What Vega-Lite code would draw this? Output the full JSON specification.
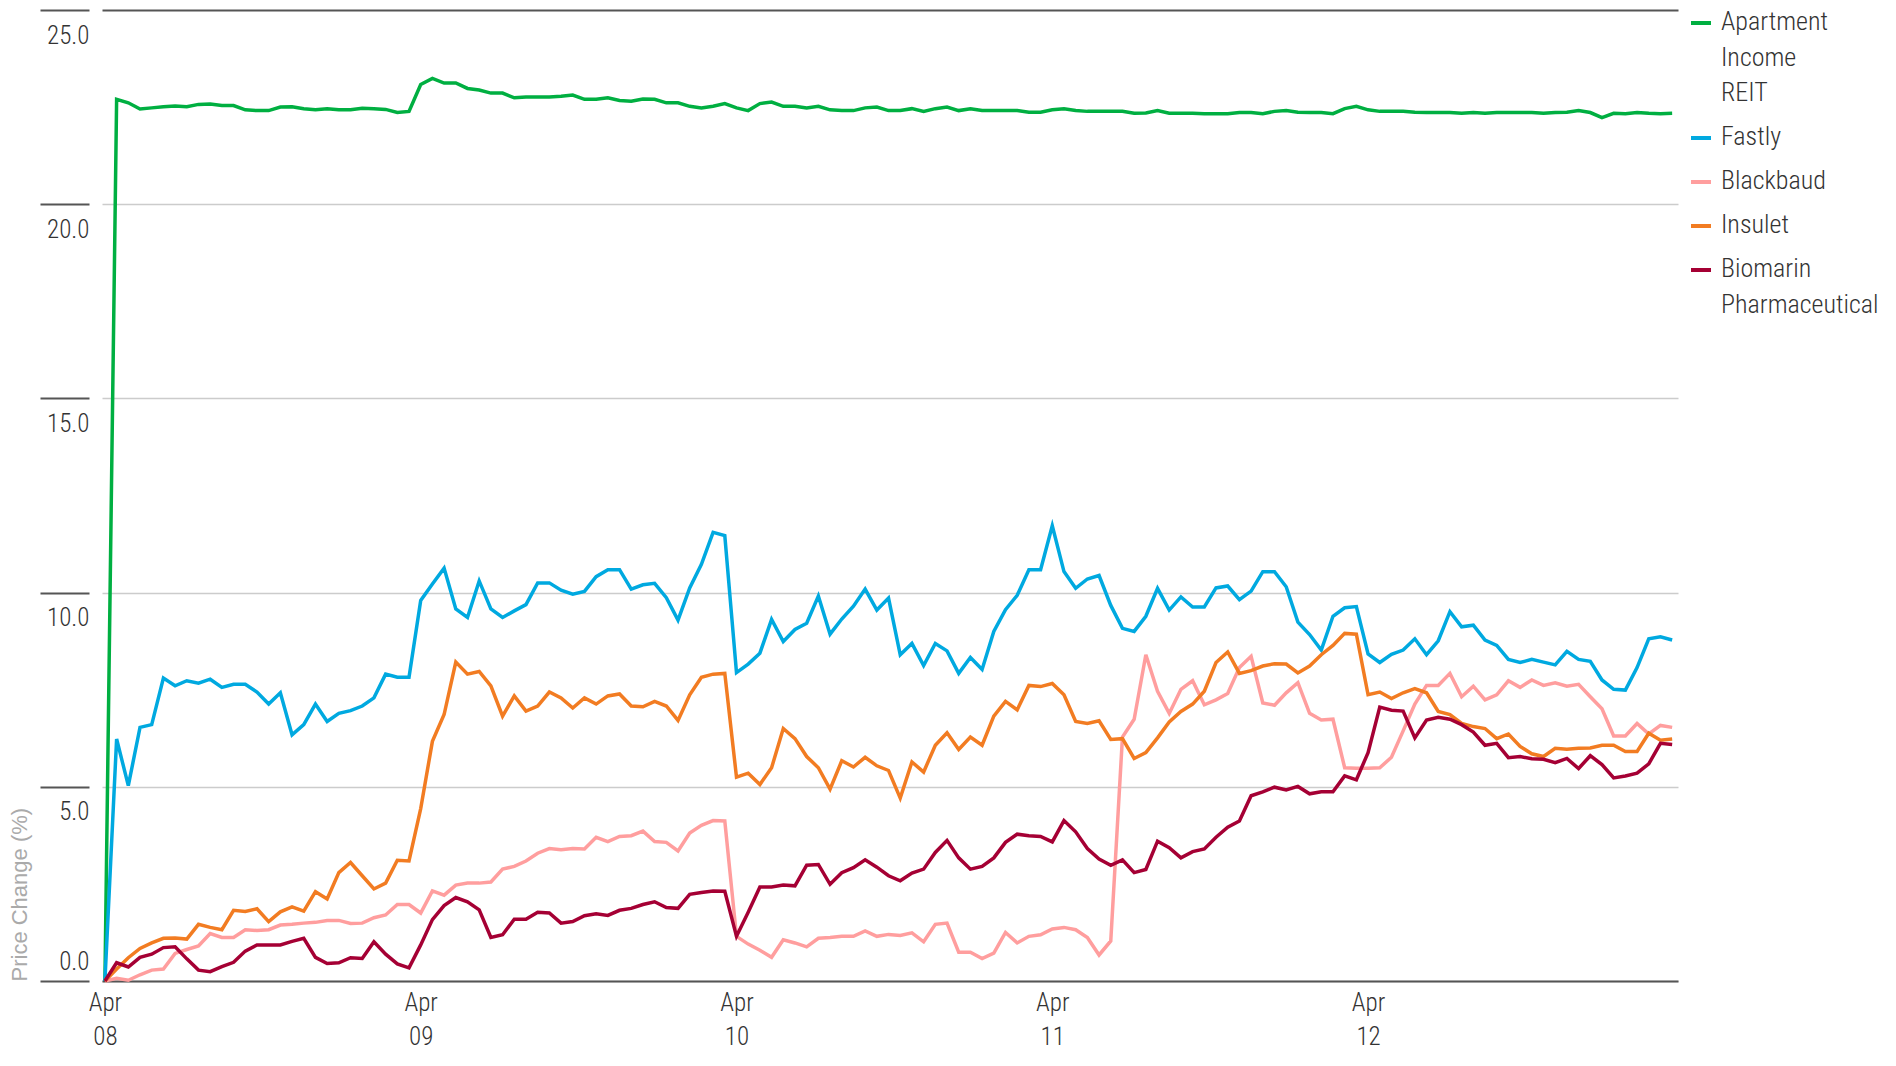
{
  "$schema": "https://vega.github.io/schema/vega-lite/v6.json",
  "autosize": "none",
  "padding": {"left": 102, "top": 10, "right": 218, "bottom": 85},
  "width": 1576,
  "height": 971,
  "background": "white",
  "config": {
    "view": {"stroke": null},
    "font": "Roboto Condensed, DejaVu Sans Condensed, Liberation Sans Narrow, Roboto"
  },
  "data": {
    "values": [
      {"i":0,"Apartment Income REIT":0,"Fastly":0,"Blackbaud":0,"Insulet":0,"Biomarin Pharmaceutical":0},
      {"i":1,"Apartment Income REIT":22.70,"Fastly":6.23,"Blackbaud":0.07,"Insulet":0.31,"Biomarin Pharmaceutical":0.47},
      {"i":2,"Apartment Income REIT":22.61,"Fastly":5.03,"Blackbaud":0.02,"Insulet":0.60,"Biomarin Pharmaceutical":0.36},
      {"i":3,"Apartment Income REIT":22.45,"Fastly":6.53,"Blackbaud":0.16,"Insulet":0.84,"Biomarin Pharmaceutical":0.61},
      {"i":4,"Apartment Income REIT":22.48,"Fastly":6.60,"Blackbaud":0.28,"Insulet":0.98,"Biomarin Pharmaceutical":0.69},
      {"i":5,"Apartment Income REIT":22.51,"Fastly":7.80,"Blackbaud":0.31,"Insulet":1.10,"Biomarin Pharmaceutical":0.86},
      {"i":6,"Apartment Income REIT":22.53,"Fastly":7.60,"Blackbaud":0.71,"Insulet":1.11,"Biomarin Pharmaceutical":0.88},
      {"i":7,"Apartment Income REIT":22.51,"Fastly":7.73,"Blackbaud":0.81,"Insulet":1.08,"Biomarin Pharmaceutical":0.57},
      {"i":8,"Apartment Income REIT":22.57,"Fastly":7.67,"Blackbaud":0.90,"Insulet":1.46,"Biomarin Pharmaceutical":0.28},
      {"i":9,"Apartment Income REIT":22.58,"Fastly":7.77,"Blackbaud":1.22,"Insulet":1.38,"Biomarin Pharmaceutical":0.24},
      {"i":10,"Apartment Income REIT":22.54,"Fastly":7.56,"Blackbaud":1.12,"Insulet":1.32,"Biomarin Pharmaceutical":0.37},
      {"i":11,"Apartment Income REIT":22.54,"Fastly":7.64,"Blackbaud":1.12,"Insulet":1.82,"Biomarin Pharmaceutical":0.48},
      {"i":12,"Apartment Income REIT":22.43,"Fastly":7.64,"Blackbaud":1.32,"Insulet":1.79,"Biomarin Pharmaceutical":0.77},
      {"i":13,"Apartment Income REIT":22.41,"Fastly":7.44,"Blackbaud":1.30,"Insulet":1.86,"Biomarin Pharmaceutical":0.93},
      {"i":14,"Apartment Income REIT":22.41,"Fastly":7.13,"Blackbaud":1.32,"Insulet":1.53,"Biomarin Pharmaceutical":0.93},
      {"i":15,"Apartment Income REIT":22.50,"Fastly":7.42,"Blackbaud":1.44,"Insulet":1.78,"Biomarin Pharmaceutical":0.93},
      {"i":16,"Apartment Income REIT":22.51,"Fastly":6.34,"Blackbaud":1.46,"Insulet":1.91,"Biomarin Pharmaceutical":1.02},
      {"i":17,"Apartment Income REIT":22.46,"Fastly":6.60,"Blackbaud":1.49,"Insulet":1.80,"Biomarin Pharmaceutical":1.10},
      {"i":18,"Apartment Income REIT":22.43,"Fastly":7.13,"Blackbaud":1.51,"Insulet":2.30,"Biomarin Pharmaceutical":0.61},
      {"i":19,"Apartment Income REIT":22.46,"Fastly":6.68,"Blackbaud":1.56,"Insulet":2.11,"Biomarin Pharmaceutical":0.45},
      {"i":20,"Apartment Income REIT":22.43,"Fastly":6.89,"Blackbaud":1.56,"Insulet":2.79,"Biomarin Pharmaceutical":0.47},
      {"i":21,"Apartment Income REIT":22.43,"Fastly":6.96,"Blackbaud":1.48,"Insulet":3.05,"Biomarin Pharmaceutical":0.60},
      {"i":22,"Apartment Income REIT":22.47,"Fastly":7.08,"Blackbaud":1.49,"Insulet":2.71,"Biomarin Pharmaceutical":0.58},
      {"i":23,"Apartment Income REIT":22.46,"Fastly":7.29,"Blackbaud":1.63,"Insulet":2.37,"Biomarin Pharmaceutical":1.01},
      {"i":24,"Apartment Income REIT":22.44,"Fastly":7.90,"Blackbaud":1.70,"Insulet":2.52,"Biomarin Pharmaceutical":0.69},
      {"i":25,"Apartment Income REIT":22.36,"Fastly":7.82,"Blackbaud":1.97,"Insulet":3.11,"Biomarin Pharmaceutical":0.44},
      {"i":26,"Apartment Income REIT":22.39,"Fastly":7.82,"Blackbaud":1.97,"Insulet":3.09,"Biomarin Pharmaceutical":0.34},
      {"i":27,"Apartment Income REIT":23.08,"Fastly":9.80,"Blackbaud":1.75,"Insulet":4.44,"Biomarin Pharmaceutical":0.93},
      {"i":28,"Apartment Income REIT":23.24,"Fastly":10.22,"Blackbaud":2.32,"Insulet":6.17,"Biomarin Pharmaceutical":1.58},
      {"i":29,"Apartment Income REIT":23.12,"Fastly":10.63,"Blackbaud":2.21,"Insulet":6.86,"Biomarin Pharmaceutical":1.94},
      {"i":30,"Apartment Income REIT":23.12,"Fastly":9.58,"Blackbaud":2.47,"Insulet":8.21,"Biomarin Pharmaceutical":2.15},
      {"i":31,"Apartment Income REIT":22.98,"Fastly":9.36,"Blackbaud":2.52,"Insulet":7.90,"Biomarin Pharmaceutical":2.04},
      {"i":32,"Apartment Income REIT":22.94,"Fastly":10.30,"Blackbaud":2.52,"Insulet":7.97,"Biomarin Pharmaceutical":1.83},
      {"i":33,"Apartment Income REIT":22.86,"Fastly":9.58,"Blackbaud":2.55,"Insulet":7.60,"Biomarin Pharmaceutical":1.12},
      {"i":34,"Apartment Income REIT":22.86,"Fastly":9.36,"Blackbaud":2.88,"Insulet":6.82,"Biomarin Pharmaceutical":1.19},
      {"i":35,"Apartment Income REIT":22.74,"Fastly":9.53,"Blackbaud":2.95,"Insulet":7.34,"Biomarin Pharmaceutical":1.59},
      {"i":36,"Apartment Income REIT":22.76,"Fastly":9.69,"Blackbaud":3.09,"Insulet":6.95,"Biomarin Pharmaceutical":1.59},
      {"i":37,"Apartment Income REIT":22.76,"Fastly":10.25,"Blackbaud":3.29,"Insulet":7.08,"Biomarin Pharmaceutical":1.77},
      {"i":38,"Apartment Income REIT":22.76,"Fastly":10.25,"Blackbaud":3.41,"Insulet":7.44,"Biomarin Pharmaceutical":1.75},
      {"i":39,"Apartment Income REIT":22.78,"Fastly":10.06,"Blackbaud":3.38,"Insulet":7.29,"Biomarin Pharmaceutical":1.49},
      {"i":40,"Apartment Income REIT":22.81,"Fastly":9.96,"Blackbaud":3.41,"Insulet":7.03,"Biomarin Pharmaceutical":1.53},
      {"i":41,"Apartment Income REIT":22.70,"Fastly":10.03,"Blackbaud":3.40,"Insulet":7.29,"Biomarin Pharmaceutical":1.68},
      {"i":42,"Apartment Income REIT":22.70,"Fastly":10.41,"Blackbaud":3.70,"Insulet":7.13,"Biomarin Pharmaceutical":1.73},
      {"i":43,"Apartment Income REIT":22.74,"Fastly":10.59,"Blackbaud":3.59,"Insulet":7.34,"Biomarin Pharmaceutical":1.69},
      {"i":44,"Apartment Income REIT":22.67,"Fastly":10.59,"Blackbaud":3.72,"Insulet":7.39,"Biomarin Pharmaceutical":1.82},
      {"i":45,"Apartment Income REIT":22.65,"Fastly":10.09,"Blackbaud":3.74,"Insulet":7.08,"Biomarin Pharmaceutical":1.87},
      {"i":46,"Apartment Income REIT":22.71,"Fastly":10.20,"Blackbaud":3.86,"Insulet":7.06,"Biomarin Pharmaceutical":1.97},
      {"i":47,"Apartment Income REIT":22.70,"Fastly":10.24,"Blackbaud":3.59,"Insulet":7.20,"Biomarin Pharmaceutical":2.04},
      {"i":48,"Apartment Income REIT":22.61,"Fastly":9.87,"Blackbaud":3.57,"Insulet":7.08,"Biomarin Pharmaceutical":1.89},
      {"i":49,"Apartment Income REIT":22.61,"Fastly":9.29,"Blackbaud":3.35,"Insulet":6.71,"Biomarin Pharmaceutical":1.87},
      {"i":50,"Apartment Income REIT":22.52,"Fastly":10.12,"Blackbaud":3.81,"Insulet":7.37,"Biomarin Pharmaceutical":2.23},
      {"i":51,"Apartment Income REIT":22.48,"Fastly":10.73,"Blackbaud":4.01,"Insulet":7.82,"Biomarin Pharmaceutical":2.28},
      {"i":52,"Apartment Income REIT":22.52,"Fastly":11.55,"Blackbaud":4.13,"Insulet":7.90,"Biomarin Pharmaceutical":2.32},
      {"i":53,"Apartment Income REIT":22.59,"Fastly":11.47,"Blackbaud":4.12,"Insulet":7.92,"Biomarin Pharmaceutical":2.31},
      {"i":54,"Apartment Income REIT":22.48,"Fastly":7.94,"Blackbaud":1.15,"Insulet":5.25,"Biomarin Pharmaceutical":1.15},
      {"i":55,"Apartment Income REIT":22.41,"Fastly":8.16,"Blackbaud":0.95,"Insulet":5.35,"Biomarin Pharmaceutical":1.77},
      {"i":56,"Apartment Income REIT":22.59,"Fastly":8.44,"Blackbaud":0.79,"Insulet":5.06,"Biomarin Pharmaceutical":2.42},
      {"i":57,"Apartment Income REIT":22.63,"Fastly":9.31,"Blackbaud":0.61,"Insulet":5.49,"Biomarin Pharmaceutical":2.42},
      {"i":58,"Apartment Income REIT":22.52,"Fastly":8.74,"Blackbaud":1.06,"Insulet":6.50,"Biomarin Pharmaceutical":2.47},
      {"i":59,"Apartment Income REIT":22.52,"Fastly":9.05,"Blackbaud":0.98,"Insulet":6.24,"Biomarin Pharmaceutical":2.45},
      {"i":60,"Apartment Income REIT":22.48,"Fastly":9.21,"Blackbaud":0.88,"Insulet":5.78,"Biomarin Pharmaceutical":2.98},
      {"i":61,"Apartment Income REIT":22.52,"Fastly":9.91,"Blackbaud":1.10,"Insulet":5.49,"Biomarin Pharmaceutical":3.00},
      {"i":62,"Apartment Income REIT":22.43,"Fastly":8.93,"Blackbaud":1.12,"Insulet":4.94,"Biomarin Pharmaceutical":2.49},
      {"i":63,"Apartment Income REIT":22.41,"Fastly":9.32,"Blackbaud":1.15,"Insulet":5.67,"Biomarin Pharmaceutical":2.79},
      {"i":64,"Apartment Income REIT":22.41,"Fastly":9.65,"Blackbaud":1.15,"Insulet":5.51,"Biomarin Pharmaceutical":2.92},
      {"i":65,"Apartment Income REIT":22.48,"Fastly":10.09,"Blackbaud":1.29,"Insulet":5.76,"Biomarin Pharmaceutical":3.12},
      {"i":66,"Apartment Income REIT":22.50,"Fastly":9.55,"Blackbaud":1.15,"Insulet":5.54,"Biomarin Pharmaceutical":2.93},
      {"i":67,"Apartment Income REIT":22.41,"Fastly":9.86,"Blackbaud":1.20,"Insulet":5.42,"Biomarin Pharmaceutical":2.71},
      {"i":68,"Apartment Income REIT":22.41,"Fastly":8.40,"Blackbaud":1.17,"Insulet":4.71,"Biomarin Pharmaceutical":2.58},
      {"i":69,"Apartment Income REIT":22.46,"Fastly":8.69,"Blackbaud":1.24,"Insulet":5.64,"Biomarin Pharmaceutical":2.78},
      {"i":70,"Apartment Income REIT":22.39,"Fastly":8.12,"Blackbaud":1.01,"Insulet":5.38,"Biomarin Pharmaceutical":2.88},
      {"i":71,"Apartment Income REIT":22.46,"Fastly":8.69,"Blackbaud":1.46,"Insulet":6.07,"Biomarin Pharmaceutical":3.31},
      {"i":72,"Apartment Income REIT":22.50,"Fastly":8.50,"Blackbaud":1.49,"Insulet":6.39,"Biomarin Pharmaceutical":3.62},
      {"i":73,"Apartment Income REIT":22.41,"Fastly":7.92,"Blackbaud":0.74,"Insulet":5.96,"Biomarin Pharmaceutical":3.17},
      {"i":74,"Apartment Income REIT":22.46,"Fastly":8.33,"Blackbaud":0.74,"Insulet":6.28,"Biomarin Pharmaceutical":2.88},
      {"i":75,"Apartment Income REIT":22.41,"Fastly":8.02,"Blackbaud":0.58,"Insulet":6.07,"Biomarin Pharmaceutical":2.95},
      {"i":76,"Apartment Income REIT":22.41,"Fastly":9.00,"Blackbaud":0.72,"Insulet":6.82,"Biomarin Pharmaceutical":3.17},
      {"i":77,"Apartment Income REIT":22.41,"Fastly":9.56,"Blackbaud":1.25,"Insulet":7.20,"Biomarin Pharmaceutical":3.57},
      {"i":78,"Apartment Income REIT":22.41,"Fastly":9.93,"Blackbaud":0.98,"Insulet":6.98,"Biomarin Pharmaceutical":3.78},
      {"i":79,"Apartment Income REIT":22.37,"Fastly":10.59,"Blackbaud":1.15,"Insulet":7.61,"Biomarin Pharmaceutical":3.74},
      {"i":80,"Apartment Income REIT":22.37,"Fastly":10.59,"Blackbaud":1.19,"Insulet":7.58,"Biomarin Pharmaceutical":3.72},
      {"i":81,"Apartment Income REIT":22.43,"Fastly":11.72,"Blackbaud":1.34,"Insulet":7.66,"Biomarin Pharmaceutical":3.58},
      {"i":82,"Apartment Income REIT":22.46,"Fastly":10.54,"Blackbaud":1.38,"Insulet":7.37,"Biomarin Pharmaceutical":4.13},
      {"i":83,"Apartment Income REIT":22.41,"Fastly":10.11,"Blackbaud":1.32,"Insulet":6.68,"Biomarin Pharmaceutical":3.84},
      {"i":84,"Apartment Income REIT":22.39,"Fastly":10.35,"Blackbaud":1.12,"Insulet":6.63,"Biomarin Pharmaceutical":3.41},
      {"i":85,"Apartment Income REIT":22.39,"Fastly":10.44,"Blackbaud":0.67,"Insulet":6.70,"Biomarin Pharmaceutical":3.14},
      {"i":86,"Apartment Income REIT":22.39,"Fastly":9.67,"Blackbaud":1.03,"Insulet":6.22,"Biomarin Pharmaceutical":2.98},
      {"i":87,"Apartment Income REIT":22.39,"Fastly":9.08,"Blackbaud":6.28,"Insulet":6.24,"Biomarin Pharmaceutical":3.12},
      {"i":88,"Apartment Income REIT":22.34,"Fastly":9.00,"Blackbaud":6.74,"Insulet":5.73,"Biomarin Pharmaceutical":2.79},
      {"i":89,"Apartment Income REIT":22.35,"Fastly":9.39,"Blackbaud":8.40,"Insulet":5.88,"Biomarin Pharmaceutical":2.87},
      {"i":90,"Apartment Income REIT":22.41,"Fastly":10.11,"Blackbaud":7.46,"Insulet":6.26,"Biomarin Pharmaceutical":3.60},
      {"i":91,"Apartment Income REIT":22.34,"Fastly":9.55,"Blackbaud":6.89,"Insulet":6.67,"Biomarin Pharmaceutical":3.43},
      {"i":92,"Apartment Income REIT":22.34,"Fastly":9.89,"Blackbaud":7.51,"Insulet":6.94,"Biomarin Pharmaceutical":3.17},
      {"i":93,"Apartment Income REIT":22.34,"Fastly":9.63,"Blackbaud":7.73,"Insulet":7.13,"Biomarin Pharmaceutical":3.33},
      {"i":94,"Apartment Income REIT":22.33,"Fastly":9.63,"Blackbaud":7.11,"Insulet":7.46,"Biomarin Pharmaceutical":3.40},
      {"i":95,"Apartment Income REIT":22.33,"Fastly":10.12,"Blackbaud":7.24,"Insulet":8.20,"Biomarin Pharmaceutical":3.70},
      {"i":96,"Apartment Income REIT":22.33,"Fastly":10.17,"Blackbaud":7.40,"Insulet":8.47,"Biomarin Pharmaceutical":3.96},
      {"i":97,"Apartment Income REIT":22.36,"Fastly":9.82,"Blackbaud":8.07,"Insulet":7.92,"Biomarin Pharmaceutical":4.12},
      {"i":98,"Apartment Income REIT":22.36,"Fastly":10.04,"Blackbaud":8.36,"Insulet":7.99,"Biomarin Pharmaceutical":4.77},
      {"i":99,"Apartment Income REIT":22.33,"Fastly":10.54,"Blackbaud":7.16,"Insulet":8.11,"Biomarin Pharmaceutical":4.87},
      {"i":100,"Apartment Income REIT":22.39,"Fastly":10.54,"Blackbaud":7.10,"Insulet":8.17,"Biomarin Pharmaceutical":4.99},
      {"i":101,"Apartment Income REIT":22.41,"Fastly":10.15,"Blackbaud":7.42,"Insulet":8.16,"Biomarin Pharmaceutical":4.92},
      {"i":102,"Apartment Income REIT":22.37,"Fastly":9.24,"Blackbaud":7.68,"Insulet":7.93,"Biomarin Pharmaceutical":5.01},
      {"i":103,"Apartment Income REIT":22.36,"Fastly":8.92,"Blackbaud":6.89,"Insulet":8.11,"Biomarin Pharmaceutical":4.82},
      {"i":104,"Apartment Income REIT":22.36,"Fastly":8.52,"Blackbaud":6.72,"Insulet":8.40,"Biomarin Pharmaceutical":4.87},
      {"i":105,"Apartment Income REIT":22.33,"Fastly":9.39,"Blackbaud":6.74,"Insulet":8.64,"Biomarin Pharmaceutical":4.87},
      {"i":106,"Apartment Income REIT":22.46,"Fastly":9.61,"Blackbaud":5.49,"Insulet":8.95,"Biomarin Pharmaceutical":5.28},
      {"i":107,"Apartment Income REIT":22.52,"Fastly":9.64,"Blackbaud":5.48,"Insulet":8.93,"Biomarin Pharmaceutical":5.18},
      {"i":108,"Apartment Income REIT":22.43,"Fastly":8.42,"Blackbaud":5.48,"Insulet":7.37,"Biomarin Pharmaceutical":5.88},
      {"i":109,"Apartment Income REIT":22.39,"Fastly":8.20,"Blackbaud":5.49,"Insulet":7.44,"Biomarin Pharmaceutical":7.05},
      {"i":110,"Apartment Income REIT":22.39,"Fastly":8.41,"Blackbaud":5.76,"Insulet":7.27,"Biomarin Pharmaceutical":6.97},
      {"i":111,"Apartment Income REIT":22.39,"Fastly":8.52,"Blackbaud":6.44,"Insulet":7.42,"Biomarin Pharmaceutical":6.95},
      {"i":112,"Apartment Income REIT":22.37,"Fastly":8.81,"Blackbaud":7.13,"Insulet":7.53,"Biomarin Pharmaceutical":6.26},
      {"i":113,"Apartment Income REIT":22.36,"Fastly":8.40,"Blackbaud":7.61,"Insulet":7.42,"Biomarin Pharmaceutical":6.72},
      {"i":114,"Apartment Income REIT":22.36,"Fastly":8.76,"Blackbaud":7.61,"Insulet":6.94,"Biomarin Pharmaceutical":6.79},
      {"i":115,"Apartment Income REIT":22.36,"Fastly":9.51,"Blackbaud":7.92,"Insulet":6.86,"Biomarin Pharmaceutical":6.74},
      {"i":116,"Apartment Income REIT":22.34,"Fastly":9.12,"Blackbaud":7.32,"Insulet":6.63,"Biomarin Pharmaceutical":6.60},
      {"i":117,"Apartment Income REIT":22.36,"Fastly":9.16,"Blackbaud":7.59,"Insulet":6.55,"Biomarin Pharmaceutical":6.41},
      {"i":118,"Apartment Income REIT":22.34,"Fastly":8.78,"Blackbaud":7.24,"Insulet":6.50,"Biomarin Pharmaceutical":6.07},
      {"i":119,"Apartment Income REIT":22.36,"Fastly":8.64,"Blackbaud":7.37,"Insulet":6.24,"Biomarin Pharmaceutical":6.12},
      {"i":120,"Apartment Income REIT":22.36,"Fastly":8.28,"Blackbaud":7.73,"Insulet":6.36,"Biomarin Pharmaceutical":5.75},
      {"i":121,"Apartment Income REIT":22.36,"Fastly":8.20,"Blackbaud":7.56,"Insulet":6.04,"Biomarin Pharmaceutical":5.78},
      {"i":122,"Apartment Income REIT":22.36,"Fastly":8.28,"Blackbaud":7.75,"Insulet":5.85,"Biomarin Pharmaceutical":5.72},
      {"i":123,"Apartment Income REIT":22.34,"Fastly":8.21,"Blackbaud":7.61,"Insulet":5.78,"Biomarin Pharmaceutical":5.71},
      {"i":124,"Apartment Income REIT":22.36,"Fastly":8.14,"Blackbaud":7.68,"Insulet":5.99,"Biomarin Pharmaceutical":5.62},
      {"i":125,"Apartment Income REIT":22.37,"Fastly":8.49,"Blackbaud":7.59,"Insulet":5.97,"Biomarin Pharmaceutical":5.73},
      {"i":126,"Apartment Income REIT":22.41,"Fastly":8.28,"Blackbaud":7.64,"Insulet":5.99,"Biomarin Pharmaceutical":5.47},
      {"i":127,"Apartment Income REIT":22.36,"Fastly":8.23,"Blackbaud":7.32,"Insulet":6.00,"Biomarin Pharmaceutical":5.80},
      {"i":128,"Apartment Income REIT":22.23,"Fastly":7.75,"Blackbaud":7.01,"Insulet":6.07,"Biomarin Pharmaceutical":5.57},
      {"i":129,"Apartment Income REIT":22.34,"Fastly":7.51,"Blackbaud":6.31,"Insulet":6.07,"Biomarin Pharmaceutical":5.23},
      {"i":130,"Apartment Income REIT":22.33,"Fastly":7.49,"Blackbaud":6.31,"Insulet":5.91,"Biomarin Pharmaceutical":5.28},
      {"i":131,"Apartment Income REIT":22.36,"Fastly":8.07,"Blackbaud":6.63,"Insulet":5.91,"Biomarin Pharmaceutical":5.35},
      {"i":132,"Apartment Income REIT":22.34,"Fastly":8.81,"Blackbaud":6.36,"Insulet":6.38,"Biomarin Pharmaceutical":5.59},
      {"i":133,"Apartment Income REIT":22.33,"Fastly":8.86,"Blackbaud":6.58,"Insulet":6.20,"Biomarin Pharmaceutical":6.12},
      {"i":134,"Apartment Income REIT":22.34,"Fastly":8.78,"Blackbaud":6.53,"Insulet":6.23,"Biomarin Pharmaceutical":6.09}
    ]
  },
  "transform": [
    {"fold": ["Apartment Income REIT", "Fastly", "Blackbaud", "Insulet", "Biomarin Pharmaceutical"], "as": ["series", "change"]}
  ],
  "mark": {"type": "line", "strokeWidth": 3.5, "clip": false},
  "encoding": {
    "x": {
      "field": "i",
      "type": "quantitative",
      "scale": {"domain": [-0.25, 134.5], "nice": false, "zero": false},
      "axis": {
        "title": null,
        "values": [0, 27, 54, 81, 108],
        "labelExpr": "datum.value == 0 ? ['Apr', '08'] : datum.value == 27 ? ['Apr', '09'] : datum.value == 54 ? ['Apr', '10'] : datum.value == 81 ? ['Apr', '11'] : ['Apr', '12']",
        "grid": false,
        "ticks": false,
        "tickSize": 0,
        "domainColor": "#555555",
        "domainWidth": 2,
        "labelFontSize": 25,
        "labelFontWeight": 300,
        "labelColor": "#333333",
        "labelBaseline": "alphabetic",
        "labelPadding": 29,
        "labelLineHeight": 34,
        "labelOverlap": false,
        "labelFlush": false
      }
    },
    "y": {
      "field": "change",
      "type": "quantitative",
      "scale": {"domain": [0, 25], "nice": false},
      "axis": {
        "title": "Price Change (%)",
        "titleFont": "Liberation Sans",
        "titleFontSize": 22,
        "titleFontWeight": "normal",
        "titleColor": "#aaaaaa",
        "titleAnchor": "start",
        "titlePadding": 8,
        "values": [0, 5, 10, 15, 20, 25],
        "format": ".1f",
        "domain": false,
        "offset": 13,
        "tickSize": 49,
        "tickWidth": 2,
        "tickColor": "#555555",
        "labelFontSize": 25,
        "labelFontWeight": 300,
        "labelColor": "#333333",
        "labelAlign": "right",
        "labelBaseline": "alphabetic",
        "labelPadding": -49,
        "labelOffset": {"condition": {"test": "datum.value == 0", "value": -12}, "value": 33},
        "gridColor": {"condition": {"test": "datum.value == 25", "value": "#555555"}, "value": "#cccccc"},
        "gridWidth": {"condition": {"test": "datum.value == 25", "value": 2}, "value": 1.5}
      }
    },
    "color": {
      "field": "series",
      "type": "nominal",
      "scale": {
        "domain": ["Apartment Income REIT", "Fastly", "Blackbaud", "Insulet", "Biomarin Pharmaceutical"],
        "range": ["#00AF41", "#00A9E0", "#FF9E9E", "#F27C22", "#A50034"]
      },
      "legend": {
        "title": null,
        "orient": "right",
        "offset": 8,
        "padding": 0,
        "symbolType": "stroke",
        "symbolSize": 400,
        "symbolStrokeWidth": 4,
        "labelFontSize": 26,
        "labelFontWeight": 300,
        "labelColor": "#333333",
        "labelLimit": 300,
        "labelOffset": 7,
        "labelBaseline": "top",
        "rowPadding": 18,
        "labelExpr": "datum.label == 'Apartment Income REIT' ? ['Apartment', 'Income', 'REIT'] : datum.label == 'Biomarin Pharmaceutical' ? ['Biomarin', 'Pharmaceutical'] : datum.label",
        "encode": {
          "labels": {"update": {"dy": {"value": -14}, "lineHeight": {"value": 35.5}}}
        }
      }
    }
  }
}
